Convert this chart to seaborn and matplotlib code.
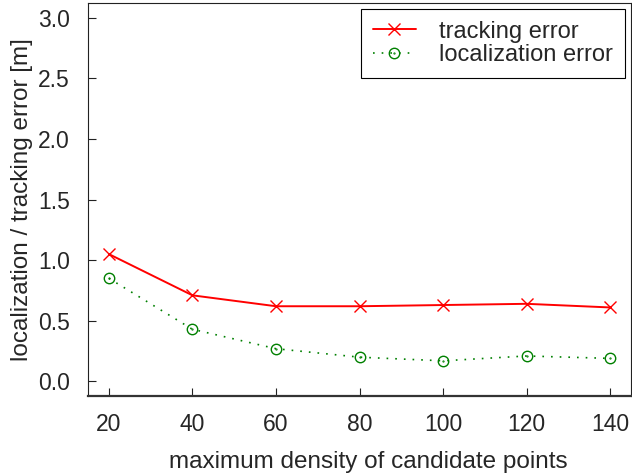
import numpy as np
import pandas as pd
import matplotlib
matplotlib.use("Agg")
import matplotlib.pyplot as plt
from matplotlib.path import Path
import seaborn as sns

density = [20, 40, 60, 80, 100, 120, 140]
tracking_error = [1.05, 0.71, 0.62, 0.62, 0.63, 0.64, 0.61]
localization_error = [0.85, 0.43, 0.27, 0.20, 0.17, 0.21, 0.19]
y_ticks = [0.0, 0.5, 1.0, 1.5, 2.0, 2.5, 3.0]

sns.set_style("ticks")
plt.rcParams["font.family"] = ["Liberation Sans", "DejaVu Sans"]
plt.rcParams["xtick.direction"] = "in"
plt.rcParams["ytick.direction"] = "in"

# circle with a dot in its centre
_circ = Path.unit_circle()
_dot = Path(Path.unit_circle().vertices * 0.08, Path.unit_circle().codes)
circle_dot = Path.make_compound_path(_circ, _dot)

fig = plt.figure(figsize=(6.32, 4.75), dpi=100)
ax = fig.add_axes([88 / 632, 1 - 396 / 475, (631 - 88) / 632, (396 - 3) / 475])

sns.lineplot(x=density, y=tracking_error, ax=ax, color="#ff0000", lw=1.4,
             marker="x", markersize=8.5, markeredgewidth=1.0,
             markeredgecolor="#ff0000", label="tracking error")
sns.lineplot(x=density, y=localization_error, ax=ax, color="#008000", lw=1.2,
             linestyle=(0, (1, 4.2)), marker=circle_dot, markersize=7.5,
             markerfacecolor="none", markeredgecolor="#008000",
             markeredgewidth=1.0, label="localization error")

ax.set_xlim(15, 145)
ax.set_ylim(-0.12, 3.12)
ax.set_xticks(density)
ax.set_yticks(y_ticks)
ax.set_yticklabels([f"{v:.1f}" for v in y_ticks])
ax.tick_params(axis="both", labelsize=16.5, length=6, width=0.8, color="#222222",
               top=False, right=False)
ax.tick_params(axis="y", pad=13)
ax.tick_params(axis="x", pad=12)
ax.set_xlabel("maximum density of candidate points", fontsize=17.5)
ax.xaxis.set_label_coords(0.516, -0.14)
ax.set_ylabel("localization / tracking error [m]", fontsize=17.5, labelpad=4)

for side in ["left", "top", "right"]:
    ax.spines[side].set_linewidth(0.8)
    ax.spines[side].set_color("#222222")
ax.spines["bottom"].set_linewidth(1.6)
ax.spines["bottom"].set_color("#333333")

leg = ax.legend(loc="upper right", fontsize=17, frameon=True, fancybox=False,
                edgecolor="black", framealpha=1, handlelength=1.8,
                borderpad=0.5, labelspacing=0.05, handletextpad=1.0,
                borderaxespad=0, bbox_to_anchor=(0.989, 0.985))
leg.get_frame().set_linewidth(0.8)

fig.savefig("out.png", dpi=100)
